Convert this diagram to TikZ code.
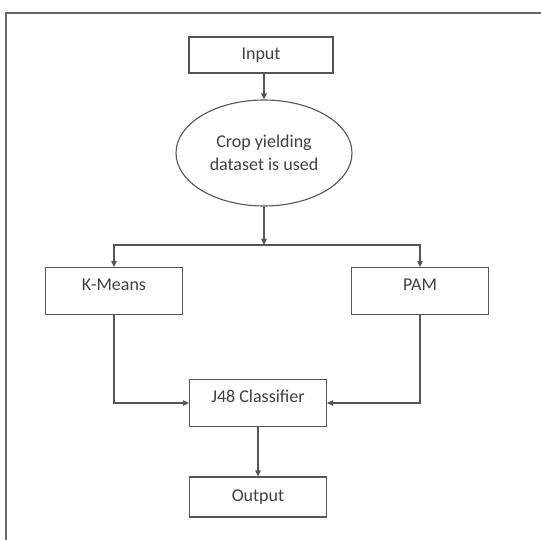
\documentclass[tikz,border=0pt]{standalone}
\usepackage{fontspec}
\setmainfont{Carlito}
\usetikzlibrary{arrows.meta,positioning,shapes.geometric}
\definecolor{flowline}{HTML}{555555}
\definecolor{flowtext}{HTML}{404040}

\begin{document}
\begin{tikzpicture}[
    x=1pt, y=-1pt,
    stepbox/.style={rectangle, draw=flowline, line width=1.2pt, text=flowtext,
                    minimum width=137pt, minimum height=47pt, align=center,
                    inner sep=0pt},
    highbox/.style={stepbox, text depth=13pt},
    databox/.style={ellipse, draw=flowline, line width=1.1pt, text=flowtext,
                    minimum width=176pt, minimum height=106pt, align=center,
                    inner sep=0pt},
    arr/.style={-{Triangle[length=6pt,width=5.5pt]}, draw=flowline, line width=1.1pt},
    every node/.style={font=\fontsize{18}{23}\selectfont}
  ]

  % ---- Canvas and frame ----
  \useasboundingbox (0,0) rectangle (541,540);
  \fill[white] (0,0) rectangle (541,540);
  \draw[flowline!90, line width=1.6pt] (6,541) -- (6,13) -- (542,13);

  % ---- Nodes ----
  \node[stepbox, minimum width=144pt, minimum height=36pt] (input) at (261,55) {Input};
  \node[databox] (data) at (264,153) {Crop yielding\\dataset is used};
  \coordinate (split) at (264,245);
  \node[highbox] (kmeans) at (114,291) {K-Means};
  \node[highbox] (pam) at (420,291) {PAM};
  \node[highbox] (j48) at (258,403) {J48 Classifier};
  \node[stepbox, minimum height=40pt] (output) at (258,497) {Output};

  % ---- Connectors ----
  \draw[arr] (input.south -| data.north) -- (data.north);
  \draw[arr] (data.south) -- (split);
  \draw[arr] (split) -| (kmeans.north);
  \draw[arr] (split) -| (pam.north);
  \draw[arr] (kmeans.south) |- (j48.west);
  \draw[arr] (pam.south) |- (j48.east);
  \draw[arr] (j48.south) -- (output.north);

\end{tikzpicture}
\end{document}
